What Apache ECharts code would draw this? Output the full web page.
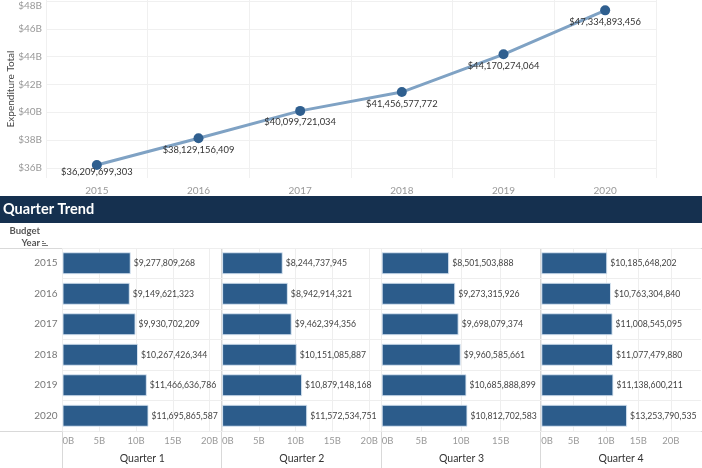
<!DOCTYPE html>
<html>
<head>
<meta charset="utf-8">
<script src="https://cdn.jsdelivr.net/npm/echarts@6/dist/echarts.min.js"></script>
<style>html,body{margin:0;padding:0;background:#fff;}#c{width:702px;height:468px;}</style>
</head>
<body>
<div id="c"></div>
<script>
var years = ['2015', '2016', '2017', '2018', '2019', '2020'];
var totals = [36209699303, 38129156409, 40099721034, 41456577772, 44170274064, 47334893456];
var q1 = [9277809268, 9149621323, 9930702209, 10267426344, 11466636786, 11695865587];
var q2 = [8244737945, 8942914321, 9462394356, 10151085887, 10879148168, 11572534751];
var q3 = [8501503888, 9273315926, 9698079374, 9960585661, 10685888899, 10812702583];
var q4 = [10185648202, 10763304840, 11008545095, 11077479880, 11138600211, 13253790535];
var quarterNames = ['Quarter 1', 'Quarter 2', 'Quarter 3', 'Quarter 4'];
// independent axis ranges per quarter panel
var quarterAxisMax = [21.7e9, 21.7e9, 20.12e9, 24.65e9];
var topTicks = [36e9, 38e9, 40e9, 42e9, 44e9, 46e9, 48e9];
var barTicks = [0, 5e9, 10e9, 15e9, 20e9];
var barTicksQ3 = [0, 5e9, 10e9, 15e9];

var FONT = 'Lato';
function money(v) { return '$' + Math.round(v).toLocaleString('en-US'); }

var chart = echarts.init(document.getElementById('c'), null, {renderer: 'canvas'});

var panelLeft = 62.5, panelW = 159.6, panelTop = 248, panelH = 183;
var grids = [{left: 46, top: 0, width: 610, height: 178, containLabel: false, outerBoundsMode: 'none'}];
var xAxes = [{
  gridIndex: 0, type: 'category', data: years, boundaryGap: true,
  axisLine: {show: false}, axisTick: {show: false},
  axisLabel: {color: '#999', fontSize: 10, fontFamily: FONT, margin: 8},
  splitLine: {show: true, lineStyle: {color: '#f0f0f0', width: 1}}
}];
var yAxes = [{
  gridIndex: 0, type: 'value', min: 35.27e9, max: 48.08e9,
  name: 'Expenditure Total', nameLocation: 'middle', nameGap: 30, nameMoveOverlap: false,
  nameTextStyle: {color: '#444', fontSize: 10, fontFamily: FONT},
  axisLine: {show: false},
  axisTick: {show: false, customValues: topTicks},
  axisLabel: {customValues: topTicks, color: '#999', fontSize: 10, fontFamily: FONT, margin: 4,
    formatter: function (v) { return '$' + Math.round(v / 1e9) + 'B'; },
    verticalAlignMaxLabel: 'top'},
  splitLine: {show: true, lineStyle: {color: '#f0f0f0', width: 1}}
}];
var lineData = totals.map(function (v, i) {
  var d = {value: v};
  if (i === 0) d.label = {offset: [0, -4]};
  return d;
});
var series = [{
  type: 'line', xAxisIndex: 0, yAxisIndex: 0, data: lineData,
  symbol: 'circle', symbolSize: 10,
  lineStyle: {color: '#7fa2c4', width: 3},
  itemStyle: {color: '#2f5f8f'},
  label: {show: true, position: 'bottom', distance: 2, color: '#333', fontSize: 9.4, fontFamily: FONT,
    formatter: function (p) { return money(p.value); }},
  z: 3
}];

var qData = [q1, q2, q3, q4];
for (var i = 0; i < 4; i++) {
  grids.push({left: panelLeft + i * panelW, top: panelTop, width: panelW, height: panelH, containLabel: false, outerBoundsMode: 'none'});
  (function (qi) {
    var ticks = qi === 2 ? barTicksQ3 : barTicks;
    xAxes.push({
      gridIndex: qi + 1, type: 'value', min: 0, max: quarterAxisMax[qi],
      name: quarterNames[qi], nameLocation: 'middle', nameGap: 22, nameMoveOverlap: false,
      nameTextStyle: {color: '#333', fontSize: 10.5, fontFamily: FONT},
      axisLine: {show: false},
      axisTick: {show: false, customValues: ticks},
      axisLabel: {customValues: ticks, color: '#999', fontSize: 9.5, fontFamily: FONT, margin: 5, alignMinLabel: 'left',
        formatter: function (v) { return Math.round(v / 1e9) + 'B'; }},
      splitLine: {show: true, lineStyle: {color: '#eeeeee', width: 1}}
    });
    yAxes.push({
      gridIndex: qi + 1, type: 'category', data: years, inverse: true,
      axisLine: {show: false}, axisTick: {show: false},
      axisLabel: {show: qi === 0, color: '#777', fontSize: 10, fontFamily: FONT, margin: 5},
      splitLine: {show: true, lineStyle: {color: '#eeeeee', width: 1}}
    });
    series.push({
      type: 'bar', xAxisIndex: qi + 1, yAxisIndex: qi + 1, data: qData[qi],
      barWidth: 22,
      itemStyle: {color: '#2c5c8b', borderColor: 'rgba(220,232,244,0.9)', borderWidth: 1},
      label: {show: true, position: 'right', distance: 3, color: '#444', fontSize: 8.7, fontFamily: FONT,
        formatter: function (p) { return money(p.value); }}
    });
  })(i);
}

var graphics = [
  {type: 'rect', shape: {x: 0, y: 196, width: 702, height: 27}, style: {fill: '#15304f'}},
  {type: 'text', x: 3, y: 209.5, style: {text: 'Quarter Trend', fill: '#fff', font: 'bold 14.5px ' + FONT, textVerticalAlign: 'middle'}},
  {type: 'text', x: 40, y: 231, style: {text: 'Budget', fill: '#555', font: 'bold 9.5px ' + FONT, textAlign: 'right', textVerticalAlign: 'middle'}},
  {type: 'text', x: 40, y: 243, style: {text: 'Year', fill: '#555', font: 'bold 9.5px ' + FONT, textAlign: 'right', textVerticalAlign: 'middle'}},
  {type: 'rect', shape: {x: 42, y: 241, width: 2, height: 1}, style: {fill: '#777'}},
  {type: 'rect', shape: {x: 42, y: 243, width: 4, height: 1}, style: {fill: '#777'}},
  {type: 'rect', shape: {x: 42, y: 245, width: 6, height: 1}, style: {fill: '#777'}},
  {type: 'line', shape: {x1: 0, y1: 248.5, x2: 702, y2: 248.5}, style: {stroke: '#d9d9d9', lineWidth: 1}},
  {type: 'line', shape: {x1: 0, y1: 431.5, x2: 702, y2: 431.5}, style: {stroke: '#d9d9d9', lineWidth: 1}}
];
for (var k = 0; k < 4; k++) {
  var xx = Math.round(panelLeft + k * panelW) - 0.5;
  graphics.push({type: 'line', shape: {x1: xx, y1: 248, x2: xx, y2: 468}, style: {stroke: '#d9d9d9', lineWidth: 1}});
}

chart.setOption({
  animation: false,
  textStyle: {fontFamily: FONT},
  grid: grids, xAxis: xAxes, yAxis: yAxes, series: series,
  graphic: graphics
});
</script>
</body>
</html>
